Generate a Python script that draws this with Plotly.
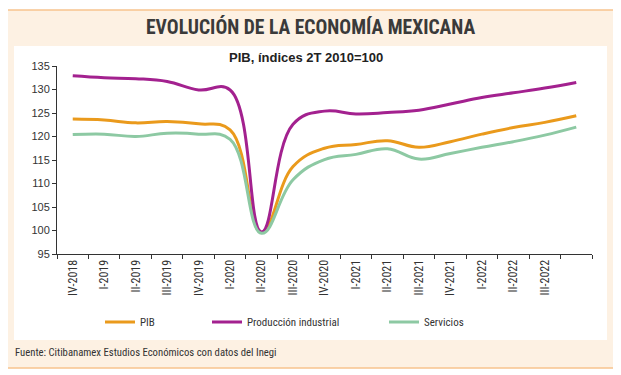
import plotly.graph_objects as go

# ---------------- data ----------------
categories = ["IV-2018", "I-2019", "II-2019", "III-2019", "IV-2019", "I-2020", "II-2020",
              "III-2020", "IV-2020", "I-2021", "II-2021", "III-2021", "IV-2021", "I-2022",
              "II-2022", "III-2022", "IV-2022"]
tick_labels = ["IV-2018", "I-2019", "II-2019", "III-2019", "IV-2019", "I-2020", "II-2020",
               "III-2020", "IV-2020", "I-2021", "II-2021", "III-2021", "IV-2021", "I-2022",
               "II-2022", "III-2022"]
pib = [123.7, 123.5, 122.9, 123.2, 122.7, 121.4, 99.6, 113.6, 117.5, 118.3, 119.1, 117.7,
       118.9, 120.5, 121.9, 123.0, 124.4]
produccion_industrial = [132.9, 132.5, 132.3, 131.7, 129.9, 129.9, 99.7, 122.6, 125.4, 124.8,
                         125.1, 125.6, 126.9, 128.3, 129.3, 130.3, 131.5]
servicios = [120.4, 120.5, 120.0, 120.7, 120.5, 119.4, 99.4, 110.8, 115.1, 116.2, 117.4,
             115.2, 116.4, 117.7, 118.9, 120.3, 122.0]

# ---------------- layout helpers (page pixel coords, body has 8px margin) ----------------
OFF = 8
W, H = 621 - OFF, 375 - OFF
L, R, T, B = 57 - OFF, 592 - OFF, 66 - OFF, 254 - OFF   # plot area in figure pixels


def px_x(p):
    return (p - OFF - L) / (R - L)


def px_y(p):
    return (B - (p - OFF)) / (B - T)


x = list(range(len(categories)))
narrow = "Liberation Sans Narrow, Roboto Condensed, Arial Narrow, Roboto, sans-serif"
arial = "Liberation Sans, Arial, sans-serif"
txt = "#333333"

fig = go.Figure()
series = [("PIB", pib, "#EA9A1C", "legend"),
          ("Producción industrial", produccion_industrial, "#A3218F", "legend2"),
          ("Servicios", servicios, "#8DC9A3", "legend3")]
for name, vals, col, lg in series:
    fig.add_trace(go.Scatter(x=x, y=vals, name=name, mode="lines",
                             line=dict(color=col, width=3, shape="spline", smoothing=1.2),
                             legend=lg))

leg_common = dict(orientation="h", yanchor="middle", xanchor="left",
                  font=dict(family=narrow, size=11, color=txt),
                  bgcolor="rgba(0,0,0,0)", itemwidth=30)

fig.update_layout(
    width=W, height=H,
    margin=dict(l=L, r=W - R, t=T, b=H - B, pad=0),
    paper_bgcolor="white", plot_bgcolor="white",
    showlegend=True,
    legend=dict(x=px_x(100), y=px_y(322), **leg_common),
    legend2=dict(x=px_x(207), y=px_y(322), **leg_common),
    legend3=dict(x=px_x(384), y=px_y(322), **leg_common),
    xaxis=dict(range=[-0.5, len(categories) - 0.5], tickmode="array",
               tickvals=x[:len(tick_labels)], ticktext=tick_labels,
               ticks="", tickangle=-90,
               tickfont=dict(family=narrow, size=12, color=txt),
               showline=True, linecolor="#333333", linewidth=1, showgrid=False,
               zeroline=False,
               minor=dict(tickmode="array",
                          tickvals=[i - 0.5 for i in range(len(categories) + 1)],
                          ticks="outside", ticklen=4, tickcolor="#333333", tickwidth=1,
                          showgrid=False)),
    yaxis=dict(range=[95, 135], dtick=5, ticks="outside", ticklen=4,
               tickcolor="#333333", tickfont=dict(family=arial, size=11, color=txt),
               showline=True, linecolor="#333333", linewidth=1, showgrid=False,
               zeroline=False),
    shapes=[
        dict(type="rect", xref="paper", yref="paper", layer="below",
             x0=px_x(7), x1=px_x(614), y0=px_y(368), y1=px_y(10),
             fillcolor="#FDF1E3", line=dict(color="#F7C48E", width=1.5)),
        dict(type="rect", xref="paper", yref="paper", layer="below",
             x0=px_x(14), x1=px_x(607), y0=px_y(340), y1=px_y(46),
             fillcolor="white", line=dict(width=0)),
    ],
    annotations=[
        dict(text="<b>EVOLUCIÓN DE LA ECONOMÍA MEXICANA</b>", xref="paper", yref="paper",
             x=px_x(310), y=px_y(27), xanchor="center", yanchor="middle", showarrow=False,
             font=dict(family=narrow, size=19.6, color="#3a3a3a")),
        dict(text="<b>PIB, índices 2T 2010=100</b>", xref="paper", yref="paper",
             x=px_x(306), y=px_y(58), xanchor="center", yanchor="middle", showarrow=False,
             font=dict(family=arial, size=13, color="#222222")),
        dict(text="Fuente: Citibanamex Estudios Económicos con datos del Inegi",
             xref="paper", yref="paper", x=px_x(13), y=px_y(352), xanchor="left",
             yanchor="middle", showarrow=False,
             font=dict(family=narrow, size=10.7, color="#333333")),
    ],
)

fig.write_html("out.html")
